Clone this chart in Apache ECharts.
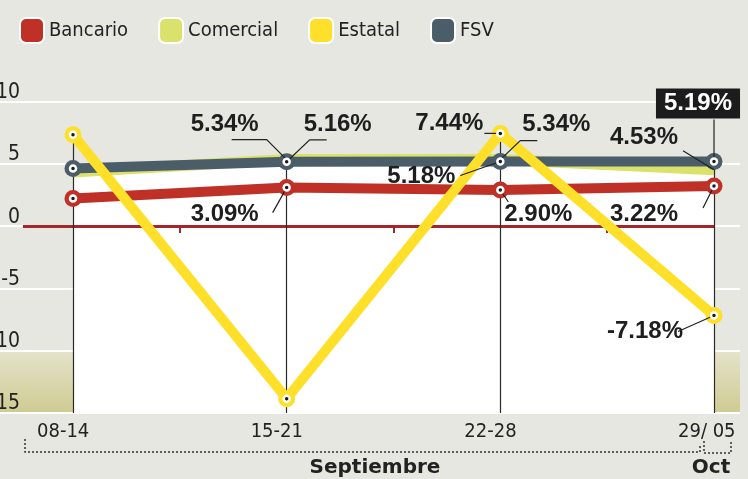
<!DOCTYPE html>
<html>
<head>
<meta charset="utf-8">
<script src="https://cdn.jsdelivr.net/npm/echarts@6/dist/echarts.min.js"></script>
<style>
html, body { margin: 0; padding: 0; background: #e7e7e1; }
#chart { width: 748px; height: 479px; }
</style>
</head>
<body>
<div id="chart"></div>
<script>
// semanas
var categories = ['08-14', '15-21', '22-28', '29/ 05'];
// variacion (%)
var bancario = [2.21, 3.09, 2.90, 3.22];
var comercial = [4.35, 5.34, 5.34, 4.53];
var estatal = [7.33, -13.85, 7.44, -7.18];
var fsv = [4.63, 5.16, 5.18, 5.19];
var yTicks = [-15, -10, -5, 0, 5, 10];

var colors = ['#bf3127', '#dbe26c', '#fedf2a', '#4a5d68'];
var cond = "'DejaVu Sans Condensed', sans-serif";

var step = 213.67;              // px entre semanas
var xMin = -73 / step;
var xMax = categories.length - 1 + 26 / step;
var labelShift = 36 / step;     // etiquetas del eje alineadas a la izquierda

// posicion de etiquetas: c = centro relativo al punto, l = guia
var labelPos = {
    Bancario: [null, {c: [-62, 27], l: [[-14, 25]]}, {c: [38, 24], l: [[8, 12]]}, {c: [-70, 28], l: [[-11, 22]]}],
    Comercial: [null, {c: [-62, -35], l: [[-20, -20], [-55, -20]]}, {c: [56, -35], l: [[20, -19], [37, -19]]}, {c: [-70, -32], l: [[-31, -19]]}],
    Estatal: [null, null, {c: [-51, -10], l: [[-16, 0]]}, {c: [-69, 16], l: [[-36, 16]]}],
    FSV: [null, {c: [51, -37], l: [[23, -22], [40, -22]]}, {c: [-79, 15], l: [[-40, 14]]}, {c: [-16, -58], l: [[0, -42]], box: true}]
};
var valuesOf = {Bancario: bancario, Comercial: comercial, Estatal: estatal, FSV: fsv};

function lineData(name) {
    return valuesOf[name].map(function (v, i) {
        var o = labelPos[name][i];
        var item = {value: [i, v], label: {show: !!o}};
        if (o && o.box) {
            item.label.backgroundColor = '#1c1c1c';
            item.label.color = '#fff';
            item.label.padding = [2, 8, 0, 8];
            item.label.lineHeight = 28;
        }
        return item;
    });
}

function layoutFor(name) {
    return function (p) {
        var o = labelPos[name][p.dataIndex];
        if (!o) return;
        var cx = p.rect.x + p.rect.width / 2;
        var cy = p.rect.y + p.rect.height / 2;
        return {x: cx + o.c[0], y: cy + o.c[1], align: 'center', verticalAlign: 'middle'};
    };
}

var labelStyle = {
    show: false,
    fontFamily: "'Liberation Sans', sans-serif",
    fontWeight: 'bold',
    fontSize: 24,
    color: '#1e1e1e',
    formatter: function (p) { return p.value[1].toFixed(2) + '%'; }
};

var weekLines = categories.map(function (c, i) {
    var top = Math.max(bancario[i], comercial[i], estatal[i], fsv[i]);
    return [{coord: [i, top], lineStyle: {color: '#2a2a2a', width: 1.2}}, {coord: [i, yTicks[0]]}];
});
var zeroLine = [{coord: [-50 / step, 0], lineStyle: {color: '#a3262a', width: 3}}, {coord: [categories.length - 1, 0]}];

var dots = [];
[bancario, estatal, fsv].forEach(function (arr) {
    arr.forEach(function (v, i) { dots.push([i, v]); });
});

function mainLine(name, idx, z) {
    return {
        name: name,
        type: 'line',
        z: z,
        data: lineData(name),
        symbol: 'circle',
        symbolSize: 17,
        itemStyle: {color: colors[idx]},
        lineStyle: {color: colors[idx], width: 10},
        label: labelStyle,
        labelLayout: layoutFor(name)
    };
}

var decorations = [
    {type: 'polyline', silent: true, shape: {points: [[25, 439], [25, 452], [700, 452], [700, 444]]},
        style: {stroke: '#333', lineWidth: 1.5, lineDash: [2, 2], fill: 'none'}},
    {type: 'polyline', silent: true, shape: {points: [[704, 441], [704, 453], [731, 453], [731, 441]]},
        style: {stroke: '#333', lineWidth: 1.5, lineDash: [2, 2], fill: 'none'}},
    {type: 'text', silent: true, x: 375, y: 468,
        style: {text: 'Septiembre', font: "bold 20px 'DejaVu Sans'", fill: '#222', align: 'center', verticalAlign: 'middle'}},
    {type: 'text', silent: true, x: 711, y: 468,
        style: {text: 'Oct', font: "bold 20px 'DejaVu Sans'", fill: '#222', align: 'center', verticalAlign: 'middle'}}
];

var myChart = echarts.init(document.getElementById('chart'));
var option = {
    animation: false,
    backgroundColor: '#e7e7e1',
    legend: {
        data: ['Bancario', 'Comercial', 'Estatal', 'FSV'],
        left: 19,
        top: 17,
        padding: 0,
        icon: 'roundRect',
        itemWidth: 24,
        itemHeight: 25,
        itemGap: 30,
        itemStyle: {borderColor: '#fff', borderWidth: 2},
        textStyle: {fontFamily: cond, fontSize: 20, color: '#222'}
    },
    grid: {left: 0, right: 8, top: 101.5, bottom: 66, outerBoundsMode: 'none', containLabel: false},
    xAxis: [{
        type: 'value',
        min: xMin,
        max: xMax,
        axisLine: {show: false, onZero: false},
        axisTick: {show: false},
        splitLine: {show: false},
        axisLabel: {
            customValues: categories.map(function (c, i) { return i - labelShift; }),
            formatter: function (v) { return categories[Math.round(v + labelShift)]; },
            align: 'left',
            margin: 9,
            fontFamily: cond,
            fontSize: 20,
            color: '#222'
        }
    }, {
        type: 'value',
        min: xMin,
        max: xMax,
        position: 'bottom',
        z: 3,
        axisLine: {show: false, onZero: true},
        axisTick: {
            show: true,
            length: 7,
            customValues: categories.slice(1).map(function (c, i) { return i + 0.5; }),
            lineStyle: {color: '#a3262a', width: 2}
        },
        axisLabel: {show: false},
        splitLine: {show: false}
    }],
    yAxis: {
        type: 'value',
        z: 1.5,
        min: yTicks[0],
        max: yTicks[yTicks.length - 1],
        interval: yTicks[1] - yTicks[0],
        axisLine: {show: false},
        axisTick: {show: false},
        splitLine: {lineStyle: {color: '#fff', width: 2}},
        axisLabel: {
            inside: true,
            showMinLabel: true,
            showMaxLabel: true,
            hideOverlap: false,
            align: 'right',
            verticalAlign: 'bottom',
            margin: 20,
            lineHeight: 18,
            fontFamily: cond,
            fontSize: 21,
            color: '#222'
        }
    },
    series: [{
        name: 'Comercial',
        type: 'line',
        z: 2,
        data: lineData('Comercial'),
        symbol: 'circle',
        symbolSize: 2,
        itemStyle: {color: colors[1]},
        lineStyle: {color: colors[1], width: 11},
        areaStyle: {color: '#fff', opacity: 1, origin: 'start'},
        label: labelStyle,
        labelLayout: layoutFor('Comercial'),
        markArea: {
            silent: true,
            z: 1,
            itemStyle: {
                color: {
                    type: 'linear', x: 0, y: 0, x2: 0, y2: 1,
                    colorStops: [{offset: 0, color: '#e4e3cb'}, {offset: 1, color: '#cfcb92'}]
                }
            },
            data: [[{yAxis: yTicks[1]}, {yAxis: yTicks[0]}]]
        },
        markLine: {
            silent: true,
            z: 3,
            symbol: 'none',
            label: {show: false},
            lineStyle: {type: 'solid'},
            data: [zeroLine].concat(weekLines)
        }
    },
    mainLine('FSV', 3, 4),
    mainLine('Bancario', 0, 5),
    mainLine('Estatal', 2, 6),
    {
        name: 'puntos',
        type: 'scatter',
        z: 10,
        silent: true,
        data: dots,
        symbolSize: 6,
        itemStyle: {color: '#1a1a1a', borderColor: '#fff', borderWidth: 2.5, opacity: 1}
    }]
};
myChart.clear();
myChart.setOption(option);

// lineas guia de las etiquetas, desde cada punto
var leaders = [];
Object.keys(labelPos).forEach(function (name) {
    labelPos[name].forEach(function (o, i) {
        if (!o) return;
        var p = myChart.convertToPixel({gridIndex: 0}, [i, valuesOf[name][i]]);
        var pts = [p].concat(o.l.map(function (d) { return [p[0] + d[0], p[1] + d[1]]; }));
        leaders.push({type: 'polyline', silent: true, z: 7, shape: {points: pts},
            style: {stroke: '#222', lineWidth: 1.2, fill: 'none'}});
    });
});
myChart.setOption({graphic: decorations.concat(leaders)});
</script>
</body>
</html>
